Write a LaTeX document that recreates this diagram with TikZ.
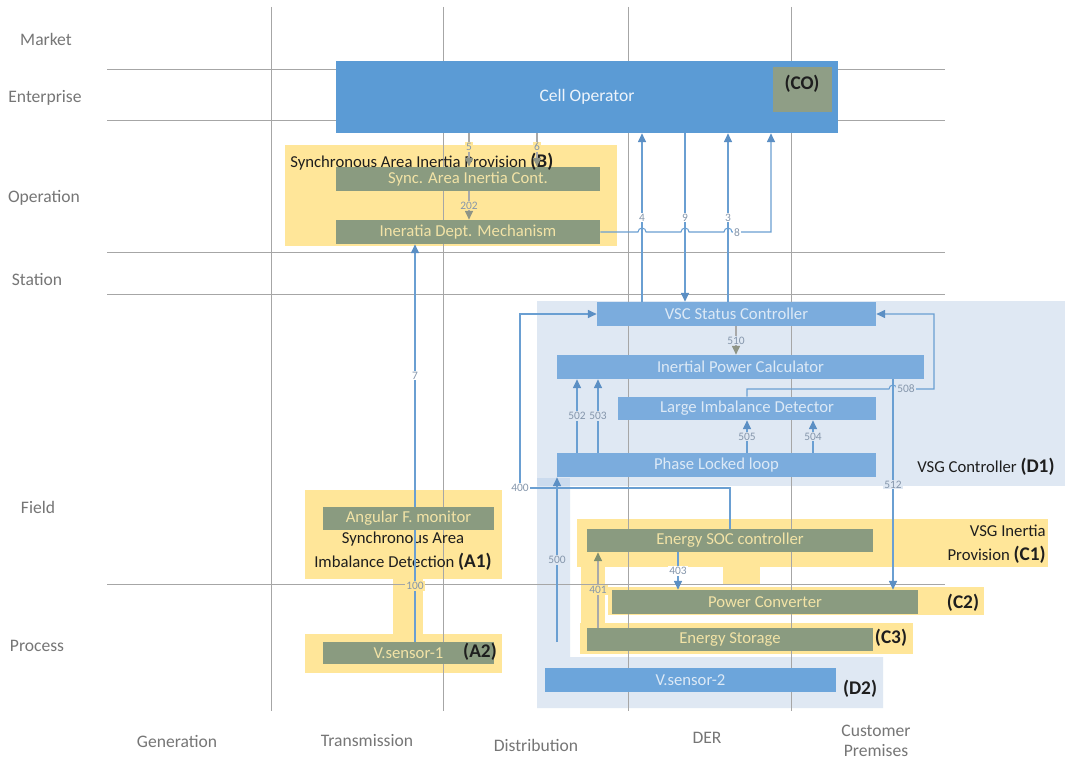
\documentclass[tikz,border=0pt]{standalone}
\usepackage{fontspec}
\setmainfont{Carlito}
\usetikzlibrary{arrows.meta}

\definecolor{gridline}{HTML}{A6A6A6}
\definecolor{axistext}{HTML}{767676}
\definecolor{opblue}{HTML}{5B9BD5}
\definecolor{optext}{HTML}{EEF4FB}
\definecolor{unitblue}{HTML}{7BACDD}
\definecolor{unittext}{HTML}{DCE9F6}
\definecolor{sensorblue}{HTML}{6CA5DB}
\definecolor{zoneblue}{HTML}{DFE8F3}
\definecolor{zoneoverlap}{HTML}{CBDBEE}
\definecolor{zoneyellow}{HTML}{FFE699}
\definecolor{olivebox}{HTML}{8A9B80}
\definecolor{olivetext}{HTML}{F2E3A6}
\definecolor{cotagfill}{HTML}{8F9E86}
\definecolor{linkblue}{HTML}{6A9FD2}
\definecolor{tipblue}{HTML}{5B8FC4}
\definecolor{linkgray}{HTML}{A9A9A9}
\definecolor{tipgray}{HTML}{8E9486}
\definecolor{tipolive}{HTML}{7F8F70}
\definecolor{numtext}{HTML}{8596AB}
\definecolor{inktext}{HTML}{1E1E1E}

\newcommand\dgaxisfont{\fontsize{10}{12.5}\selectfont}
\newcommand\dgunitfont{\fontsize{9.5}{11}\selectfont}
\newcommand\dgtitlefont{\fontsize{9.5}{13.6}\selectfont}
\newcommand\dgtagfont{\fontsize{11}{13.6}\selectfont\bfseries}
\newcommand\dgnumfont{\fontsize{6.5}{7}\selectfont}
\def\PX{0.02cm}

\begin{document}
\begin{tikzpicture}[x=0.02cm, y=-0.02cm,
  unit/.style={rectangle, inner sep=0pt, font=\dgunitfont},
  wh/.style 2 args={minimum width=#1*\PX, minimum height=#2*\PX},
  oliveunit/.style={unit, fill=olivebox, text=olivetext},
  blueunit/.style={unit, fill=unitblue, text=unittext},
  grid/.style={draw=gridline, line width=0.55pt},
  zone/.style={fill=zoneblue},
  frame/.style={fill=zoneyellow},
  link/.style={draw=linkblue, line width=0.6pt, -{Triangle[length=5pt,width=4.6pt,color=tipblue]}},
  plainlink/.style={draw=linkblue, line width=0.6pt},
  glink/.style={draw=linkgray, line width=0.6pt, -{Triangle[length=5pt,width=4.6pt,color=tipgray]}},
  olink/.style={draw=linkgray, line width=0.6pt, -{Triangle[length=5pt,width=4.6pt,color=tipolive]}},
  num/.style={font=\dgnumfont, text=numtext, inner sep=0.7pt},
  numw/.style={num, fill=white},
  numb/.style={num, fill=zoneblue},
  numy/.style={num, fill=zoneyellow},
  axis/.style={font=\dgaxisfont, text=axistext, inner sep=0pt, align=center},
  title/.style={font=\dgtitlefont, text=inktext, inner sep=0pt},
  tag/.style={font=\dgtagfont, text=inktext, inner sep=0pt}
]
\useasboundingbox (0,0) rectangle (1065,760);
\fill[white] (0,0) rectangle (1065,760);

% ---- controller zones (D1, D2)
\fill[zone] (537,301) rectangle (1065,486);
\fill[zone] (537,478) -- (570,478) -- (570,657) -- (883,657) -- (883,708) -- (537,708) -- cycle;
\fill[zoneoverlap] (537,478) rectangle (570,486);

% ---- provision frames (B, A1, A2, C1, C2, C3)
\fill[frame] (285,145) rectangle (617,246);
\fill[frame] (305,490) rectangle (502,579);
\fill[frame] (393,577) rectangle (423,636);
\fill[frame] (305,634) rectangle (502,673);
\fill[frame] (577,519) rectangle (1048,567);
\fill[frame] (581,565) rectangle (605,625);
\fill[frame] (723,565) rectangle (760,588);
\fill[frame] (580,623) rectangle (913,654);
\filldraw[frame, draw=white, line width=1.2pt] (607,586) rectangle (985,616);

% ---- zone / domain grid
\foreach \x in {271,443,628,791} \draw[grid] (\x,7) -- (\x,711);
\foreach \y in {69,120,252,294,584} \draw[grid] (107,\y) -- (945,\y);

% ---- zone labels
\node[axis] at (46,39)  {Market};
\node[axis] at (45,98)  {Enterprise};
\node[axis] at (44,198) {Operation};
\node[axis] at (37,279) {Station};
\node[axis] at (38,507) {Field};
\node[axis] at (37,646) {Process};
% ---- domain labels
\node[axis] at (177,741) {Generation};
\node[axis] at (367,741) {Transmission};
\node[axis] at (536,745) {Distribution};
\node[axis] at (707,738) {DER};
\node[axis, font=\fontsize{10}{11}\selectfont] at (876,741) {Customer\\Premises};

% ---- functional units
\node[unit, fill=opblue, text=optext, wh={502}{72}, font=\fontsize{10}{12}\selectfont] (co) at (587,97) {Cell Operator};
\node[unit, fill=cotagfill, wh={59}{45}] (cotag) at (802.5,89.5) {};
\node[tag] at (802,84) {(CO)};

\node[oliveunit, wh={264}{24}] (sync)  at (468,179) {Sync. Area Inertia Cont.};
\node[oliveunit, wh={264}{24}] (inert) at (468,232) {Ineratia Dept. Mechanism};

\node[blueunit, wh={279}{24}] (vsc) at (736.5,314)   {VSC Status Controller};
\node[blueunit, wh={367}{24}] (ipc) at (740.5,367)   {Inertial Power Calculator};
\node[blueunit, wh={258}{23}] (lid) at (747,408.5)   {Large Imbalance Detector};
\node[blueunit, wh={319}{24}] (pll) at (716.5,465)   {Phase Locked loop};

\node[oliveunit, wh={171}{23}] (afm) at (408.5,518.5) {Angular F. monitor};
\node[oliveunit, wh={171}{22}] (vs1) at (408.5,653)   {V.sensor-1};

\node[oliveunit, wh={286}{23}] (soc) at (730,540.5) {Energy SOC controller};
\node[oliveunit, wh={306}{24}] (pc)  at (765,602)   {Power Converter};
\node[oliveunit, wh={286}{23}] (es)  at (730,639.5) {Energy Storage};
\node[blueunit, fill=sensorblue, wh={291}{24}] (vs2) at (690.5,680) {V.sensor-2};

% ---- group captions
\node[title, anchor=west] at (290,162) {Synchronous Area Inertia Provision {\dgtagfont (B)}};
\node[title, align=center] at (403,551) {Synchronous Area\\Imbalance Detection {\dgtagfont (A1)}};
\node[tag] at (480,652) {(A2)};
\node[title, align=right, anchor=east] at (1046,544) {VSG Inertia\\Provision {\dgtagfont (C1)}};
\node[tag] at (963,603) {(C2)};
\node[tag] at (891,638) {(C3)};
\node[tag] at (860,689) {(D2)};
\node[title, anchor=west] at (917,467) {VSG Controller {\dgtagfont (D1)}};

% ---- connector columns and bends
\coordinate (k5) at (469,0);   \coordinate (k6) at (537,0);
\coordinate (k4) at (642,0);   \coordinate (k9) at (685,0);
\coordinate (k3) at (728,0);   \coordinate (k8) at (771,0);
\coordinate (k7) at (415,0);   \coordinate (k510) at (736,0);
\coordinate (k502) at (577,0); \coordinate (k503) at (598,0);
\coordinate (k505) at (747,0); \coordinate (k504) at (813,0);
\coordinate (k512) at (893,0); \coordinate (k400) at (730,0);
\coordinate (k500) at (557,0); \coordinate (k401) at (598,0);
\coordinate (k403) at (678,0);
\coordinate (r508) at (934,389);
\coordinate (r400) at (520,488);
\coordinate (s500) at (557,642);

% ---- operation level links
\draw[glink] (co.south -| k5) -- node[numy, pos=0.4]{5} (sync.north -| k5);
\draw[glink] (co.south -| k6) -- node[numy, pos=0.4]{6} (sync.north -| k6);
\draw[glink] (sync.south -| k5) -- node[numy]{202} (inert.north -| k5);

\draw[link] (vsc.north -| k4) -- node[numw]{4} (co.south -| k4);
\draw[link] (co.south -| k9) -- node[numw]{9} (vsc.north -| k9);
\draw[link] (vsc.north -| k3) -- node[numw]{3} (co.south -| k3);
\draw[link] (inert.east) -- (638,232) arc[start angle=180, end angle=0, radius=4*\PX]
  -- (681,232) arc[start angle=180, end angle=0, radius=4*\PX]
  -- (724,232) arc[start angle=180, end angle=0, radius=4*\PX]
  -- (k8 |- inert.east) -- (co.south -| k8);
\node[numw] at (737,233) {8};

% ---- synchronous area links
\draw[link] (afm.north -| k7) -- node[numw]{7} (inert.south -| k7);
\draw[plainlink] (vs1.north -| k7) -- node[numy]{100} (afm.south -| k7);

% ---- VSG controller links
\draw[glink] (vsc.south -| k510) -- node[numb]{510} (ipc.north -| k510);
\draw[link] (pll.north -| k502) -- node[numb]{502} (ipc.south -| k502);
\draw[link] (pll.north -| k503) -- node[numb]{503} (ipc.south -| k503);
\draw[link] (pll.north -| k505) -- node[numb]{505} (lid.south -| k505);
\draw[link] (pll.north -| k504) -- node[numb]{504} (lid.south -| k504);
\draw[link] (lid.north -| k505) -- (k505 |- r508) -- (889,389)
  arc[start angle=180, end angle=0, radius=4*\PX]
  -- (r508) -- (r508 |- vsc.east) -- (vsc.east);
\node[numb] at (906,389) {508};
\draw[link] (ipc.south -| k512) -- node[numb]{512} (pc.north -| k512);
\draw[link] (soc.north -| k400) -- (k400 |- r400) -- (r400) -- (r400 |- vsc.west) -- (vsc.west);
\node[numw] at (r400) {400};
\draw[link] (s500) -- node[numb]{500} (pll.south -| k500);

% ---- VSG inertia provision links
\draw[olink] (es.north -| k401) -- node[numy]{401} (soc.south -| k401);
\draw[link] (soc.south -| k403) -- node[numw]{403} (pc.north -| k403);
\end{tikzpicture}
\end{document}
